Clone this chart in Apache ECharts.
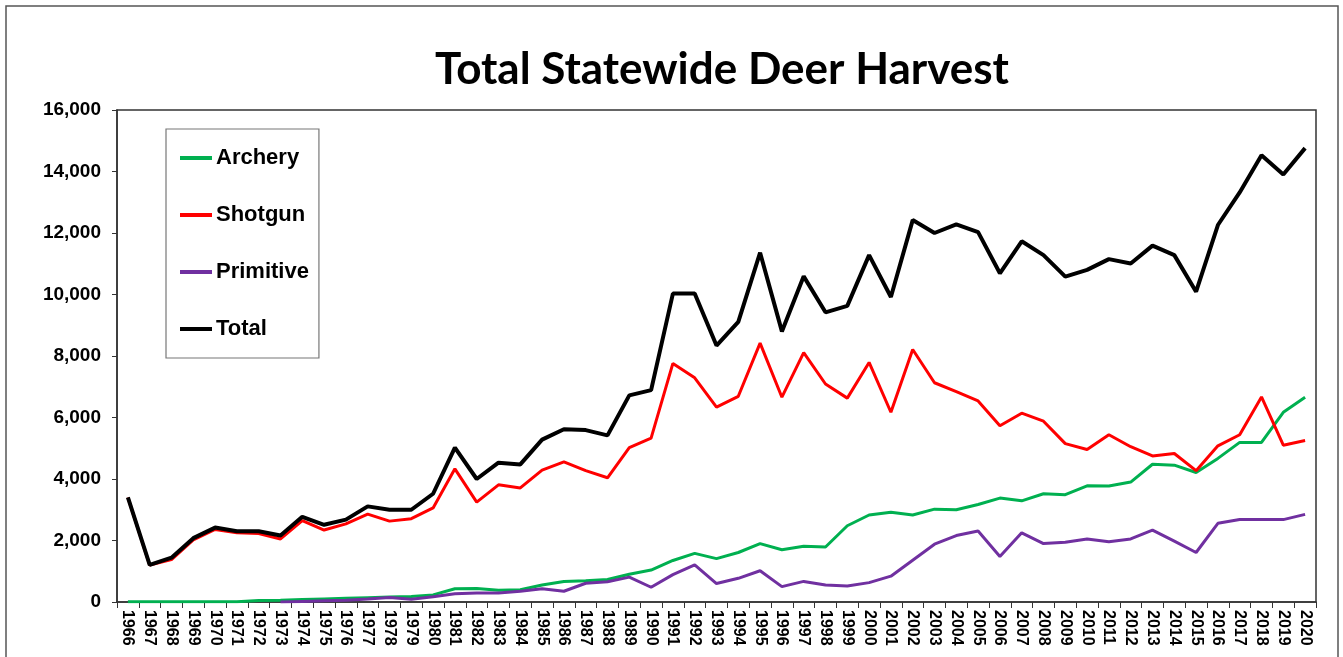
<!DOCTYPE html>
<html>
<head>
<meta charset="utf-8">
<script src="https://cdn.jsdelivr.net/npm/echarts@6/dist/echarts.min.js"></script>
<style>html,body{margin:0;padding:0;background:#fff;}#c{width:1343px;height:657px;}</style>
</head>
<body>
<div id="c"></div>
<script>
const years = ["1966","1967","1968","1969","1970","1971","1972","1973","1974","1975","1976","1977","1978","1979","1980","1981","1982","1983","1984","1985","1986","1987","1988","1989","1990","1991","1992","1993","1994","1995","1996","1997","1998","1999","2000","2001","2002","2003","2004","2005","2006","2007","2008","2009","2010","2011","2012","2013","2014","2015","2016","2017","2018","2019","2020"];
const archery = [10,10,10,10,10,10,50,60,80,100,120,140,160,180,230,430,440,380,400,550,670,690,730,900,1040,1350,1580,1410,1610,1900,1700,1810,1790,2480,2830,2920,2830,3020,3000,3170,3380,3290,3520,3490,3780,3770,3900,4480,4450,4210,4670,5190,5190,6170,6660];
const shotgun = [3400,1200,1380,2020,2360,2250,2230,2050,2650,2340,2540,2860,2630,2710,3060,4330,3250,3810,3710,4290,4560,4270,4040,5020,5330,7760,7290,6340,6690,8420,6660,8110,7090,6630,7790,6170,8210,7130,6840,6540,5730,6140,5880,5150,4960,5440,5050,4750,4830,4270,5080,5440,6670,5100,5250];
const primitive = [null,null,null,null,null,null,null,0,20,40,60,100,150,90,170,265,290,290,350,430,350,610,660,810,480,890,1210,600,770,1015,500,670,550,520,630,840,1360,1880,2160,2310,1480,2250,1900,1940,2050,1960,2050,2340,1980,1610,2560,2680,2680,2680,2850];
const total = [3400,1210,1440,2076,2420,2300,2300,2160,2770,2510,2680,3110,3000,3000,3520,5017,4000,4530,4475,5280,5620,5590,5420,6720,6890,10030,10030,8340,9110,11360,8800,10590,9420,9630,11280,9920,12420,12000,12280,12030,10690,11730,11280,10580,10800,11150,11010,11590,11280,10090,12260,13320,14530,13900,14760];
const yTicks = [0,2000,4000,6000,8000,10000,12000,14000,16000];

const chart = echarts.init(document.getElementById('c'));
const mk = (name, data, color, w) => ({
  name, type: 'line', data, symbol: 'none', smooth: false,
  lineStyle: { color, width: w }, itemStyle: { color }, z: name === 'Total' ? 4 : 3
});
chart.setOption({
  backgroundColor: '#fff',
  animation: false,
  title: {
    text: 'Total Statewide Deer Harvest',
    left: 717, top: 43, textAlign: 'center',
    textStyle: { fontFamily: 'Lato', fontWeight: 'bold', fontSize: 44, color: '#000' }
  },
  graphic: [{
    type: 'rect', shape: { x: 6, y: 6, width: 1332, height: 720 },
    style: { fill: 'none', stroke: '#555', lineWidth: 1.5 }, silent: true
  }],
  legend: {
    orient: 'vertical', left: 166, top: 129,
    padding: [18, 10, 18, 14], itemGap: 35,
    itemWidth: 32, itemHeight: 4, icon: 'rect',
    borderColor: '#777', borderWidth: 1.2,
    textStyle: { fontFamily: 'Liberation Sans', fontWeight: 'bold', fontSize: 22, color: '#000', padding: [0,0,0,-1] },
    data: ['Archery', 'Shotgun', 'Primitive', 'Total']
  },
  grid: { left: 117, right: 27, top: 110, bottom: 55, show: true, borderColor: '#333', borderWidth: 1.5, backgroundColor: 'transparent' },
  xAxis: {
    type: 'category', data: years, boundaryGap: true,
    axisLine: { lineStyle: { color: '#333', width: 1.5 } },
    axisTick: { show: true, length: 6, lineStyle: { color: '#333' } },
    axisLabel: { rotate: -90, interval: 0, margin: 8, fontFamily: 'Liberation Sans', fontWeight: 'bold', fontSize: 16, color: '#000' }
  },
  yAxis: {
    type: 'value', min: yTicks[0], max: yTicks[yTicks.length-1], interval: 2000,
    splitLine: { show: false },
    axisLine: { show: true, lineStyle: { color: '#333', width: 1.5 } },
    axisTick: { show: true, length: 5, lineStyle: { color: '#333' } },
    axisLabel: { margin: 16, fontFamily: 'Liberation Sans', fontWeight: 'bold', fontSize: 19, color: '#000',
      formatter: v => v.toLocaleString('en-US') }
  },
  series: [
    mk('Archery', archery, '#00b050', 3),
    mk('Shotgun', shotgun, '#ff0000', 3),
    mk('Primitive', primitive, '#7030a0', 3),
    mk('Total', total, '#000000', 4)
  ]
});
</script>
</body>
</html>
